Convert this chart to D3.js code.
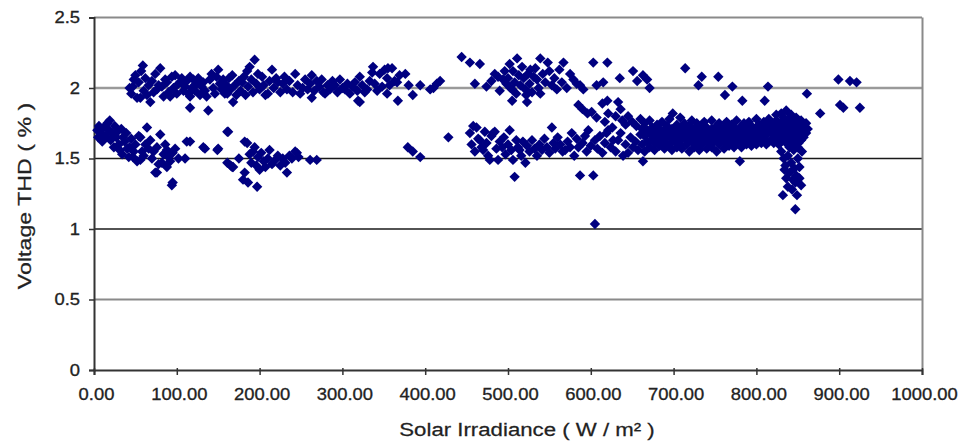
<!DOCTYPE html>
<html><head><meta charset="utf-8">
<script src="https://cdn.jsdelivr.net/npm/d3@7"></script>
<style>
html,body{margin:0;padding:0;background:#fff;}
svg{display:block;}
text{font-family:"Liberation Sans",Arial,sans-serif;fill:#222;}
</style></head>
<body><svg id="chart" width="963" height="441"></svg>
<script>
const xTicks = [0,100,200,300,400,500,600,700,800,900,1000];
const yTicks = [0,0.5,1,1.5,2,2.5];
const xTitle = "Solar Irradiance ( W / m\u00b2 )";
const yTitle = "Voltage THD ( % )";

const lowBandLeft = [[4,1.70],[5,1.65],[6,1.73],[8,1.68],[10,1.62],[12,1.72],[14,1.66],[16,1.75],[18,1.70],[19,1.77],[20,1.63],[22,1.68],[24,1.58],[25,1.73],[27,1.65],[28,1.69],[30,1.60],[31,1.56],[33,1.71],[34,1.53],[35,1.65],[37,1.62],[39,1.68],[40,1.57],[42,1.51],[43,1.58],[45,1.64],[47,1.51],[48,1.55],[50,1.60],[52,1.48],[54,1.66],[56,1.49],[56,1.65],[58,1.55],[60,1.52],[62,1.60],[64,1.72],[66,1.57],[68,1.63],[70,1.50],[72,1.55],[74,1.40],[76,1.58],[76,1.40],[78,1.46],[80,1.67],[82,1.47],[84,1.53],[86,1.60],[88,1.56],[88,1.44],[90,1.51],[92,1.48],[94,1.31],[95,1.54],[95,1.33],[98,1.57],[102,1.50],[110,1.50],[112,1.62],[116,1.62],[132,1.58],[134,1.57],[149,1.56],[150,1.57],[161,1.69],[162,1.69],[167,1.44],[161,1.47],[165,1.45],[168,1.44],[175,1.50],[180,1.35],[182,1.62],[182,1.40],[185,1.61],[186,1.33],[188,1.53],[190,1.47],[192,1.55],[194,1.58],[196,1.45],[197,1.30],[198,1.51],[200,1.42],[202,1.54],[205,1.48],[207,1.44],[210,1.50],[212,1.56],[215,1.46],[219,1.49],[222,1.52],[225,1.45],[228,1.50],[231,1.47],[233,1.40],[236,1.52],[239,1.50],[243,1.55],[245,1.54],[247,1.51],[261,1.49],[269,1.49]];

const highBandLeft = [[43,2.00],[45,1.96],[47,2.01],[48,2.06],[50,2.09],[52,1.93],[54,2.04],[56,1.93],[57,2.12],[59,2.16],[60,1.98],[62,2.07],[64,1.95],[66,2.02],[68,1.90],[70,2.05],[72,1.97],[74,2.10],[76,1.99],[78,2.02],[80,2.14],[82,2.01],[84,1.94],[86,2.06],[88,2.04],[90,1.97],[92,1.94],[94,2.08],[96,2.00],[98,2.09],[100,1.96],[102,2.03],[104,2.04],[106,2.07],[108,1.98],[110,2.01],[112,2.05],[114,1.96],[116,2.08],[116,1.94],[116,1.86],[118,2.00],[120,2.06],[122,1.98],[124,2.03],[126,2.07],[128,1.95],[130,2.01],[132,2.04],[134,1.98],[136,1.94],[138,1.84],[140,2.06],[142,2.10],[144,2.00],[146,1.96],[148,2.08],[150,2.13],[152,2.03],[154,1.99],[156,2.06],[158,1.96],[160,2.02],[161,1.96],[163,2.07],[165,1.99],[167,2.09],[168,1.90],[170,2.02],[172,1.95],[175,2.05],[177,1.98],[179,2.04],[181,2.08],[183,1.95],[185,2.12],[186,2.01],[188,2.15],[190,2.06],[192,1.97],[194,2.20],[196,2.03],[198,2.10],[200,1.99],[203,2.08],[205,2.02],[207,1.95],[210,1.96],[212,2.05],[215,2.13],[217,2.00],[220,2.07],[222,2.04],[225,1.97],[228,2.03],[230,2.08],[233,1.99],[236,2.05],[240,1.97],[243,2.10],[246,2.02],[249,1.96],[252,2.00],[255,2.06],[258,1.99],[261,2.03],[263,2.09],[263,1.93],[266,1.98],[269,2.05],[272,2.01],[275,2.06],[277,1.97],[279,1.96],[282,2.02],[285,1.99],[288,2.05],[291,2.02],[294,1.97],[297,2.06],[300,2.00],[303,1.99],[306,2.03],[309,1.96],[312,2.01],[315,2.04],[318,1.98],[319,1.91],[321,2.08],[321,1.90],[324,2.02],[327,1.97],[330,1.99],[333,2.05],[336,2.11],[337,2.15],[339,2.03],[342,1.98],[345,2.10],[348,2.01],[351,2.13],[355,2.14],[354,2.07],[354,1.96],[357,2.02],[360,2.14],[363,2.05],[366,2.04],[367,1.91],[369,2.09],[376,2.10],[380,2.02],[385,1.95],[394,2.02],[406,1.99],[410,2.00],[414,2.03],[418,2.05]];

const lowBandMid = [[379,1.58],[385,1.55],[394,1.51],[428,1.65],[454,1.68],[456,1.60],[458,1.73],[460,1.55],[462,1.72],[464,1.64],[466,1.63],[468,1.58],[470,1.56],[472,1.69],[474,1.61],[476,1.52],[478,1.49],[480,1.66],[482,1.68],[484,1.69],[486,1.57],[488,1.49],[490,1.62],[493,1.58],[495,1.65],[497,1.53],[500,1.60],[502,1.70],[504,1.56],[506,1.49],[508,1.37],[510,1.63],[512,1.58],[514,1.56],[516,1.52],[518,1.62],[521,1.47],[523,1.59],[526,1.55],[529,1.63],[532,1.57],[535,1.52],[538,1.60],[541,1.56],[544,1.64],[547,1.58],[550,1.54],[553,1.72],[555,1.61],[557,1.57],[560,1.65],[563,1.60],[566,1.55],[569,1.56],[572,1.62],[575,1.58],[577,1.68],[580,1.52],[583,1.64],[585,1.58],[587,1.38],[590,1.61],[593,1.66],[595,1.55],[597,1.70],[600,1.59],[603,1.38],[605,1.63],[605,1.035],[608,1.57],[611,1.66],[614,1.54],[617,1.61],[619,1.68],[621,1.70],[624,1.58],[627,1.63],[630,1.55],[633,1.63],[636,1.68],[639,1.52],[642,1.60],[645,1.54],[648,1.65],[651,1.58],[654,1.62],[657,1.56],[660,1.67]];

const highBandMid = [[444,2.22],[454,2.18],[466,2.17],[460,2.03],[474,2.01],[480,2.05],[484,2.10],[488,2.08],[490,1.98],[494,2.06],[496,2.12],[498,2.03],[500,2.07],[502,2.17],[503,2.00],[505,1.99],[505,1.91],[506,2.12],[508,2.04],[510,1.96],[511,2.21],[513,2.09],[515,2.02],[517,2.15],[519,2.07],[521,1.99],[522,1.95],[523,1.90],[524,2.10],[526,2.03],[527,2.13],[529,1.97],[531,2.08],[533,2.14],[535,2.06],[537,2.00],[539,2.21],[539,1.96],[542,2.10],[545,2.04],[548,2.18],[550,2.12],[553,2.02],[556,2.07],[559,1.99],[562,2.13],[565,2.04],[567,2.18],[571,2.00],[575,2.10],[579,2.06],[583,2.03],[587,2.02],[591,1.99],[603,2.18],[607,2.02],[615,2.04],[620,2.18],[635,2.07]];

const midBand = [[585,1.88],[590,1.85],[596,1.82],[601,1.83],[607,1.79],[614,1.89],[617,1.76],[620,1.91],[621,1.82],[626,1.72],[630,1.80],[633,1.90],[636,1.85],[638,1.77],[642,1.74],[645,1.80],[650,1.76],[655,1.73],[660,1.78]];

const highBandRight = [[651,2.12],[656,2.05],[663,2.09],[668,2.06],[671,2.00],[714,2.14],[734,2.08],[730,2.02],[754,2.08],[771,2.01],[762,1.95],[783,1.91],[810,1.91],[814,2.01],[861,1.96],[877,1.82],[899,2.06],[913,2.05],[921,2.04],[901,1.88],[905,1.86],[925,1.86]];

const lowBandRight = [[662,1.60],[662,1.71],[663,1.48],[665,1.55],[665,1.66],[665,1.75],[668,1.62],[668,1.70],[671,1.58],[671,1.68],[671,1.77],[674,1.64],[674,1.72],[677,1.56],[677,1.61],[677,1.69],[680,1.66],[680,1.74],[683,1.59],[683,1.63],[683,1.71],[686,1.67],[686,1.76],[689,1.57],[689,1.62],[689,1.70],[692,1.65],[692,1.73],[695,1.60],[695,1.68],[695,1.78],[698,1.56],[698,1.64],[698,1.71],[699,1.82],[701,1.62],[701,1.69],[704,1.58],[704,1.66],[704,1.74],[707,1.61],[707,1.70],[708,1.79],[710,1.57],[710,1.64],[710,1.72],[713,1.67],[713,1.75],[716,1.60],[716,1.63],[716,1.70],[719,1.55],[719,1.66],[719,1.73],[722,1.62],[722,1.69],[722,1.77],[725,1.58],[725,1.65],[725,1.71],[728,1.61],[728,1.68],[728,1.75],[731,1.56],[731,1.64],[731,1.70],[734,1.60],[734,1.67],[734,1.73],[737,1.63],[737,1.70],[737,1.76],[740,1.57],[740,1.65],[740,1.72],[743,1.61],[743,1.68],[746,1.58],[746,1.64],[746,1.71],[746,1.77],[749,1.62],[749,1.69],[752,1.55],[752,1.66],[752,1.73],[755,1.60],[755,1.67],[755,1.75],[758,1.63],[758,1.70],[761,1.57],[761,1.65],[761,1.72],[764,1.61],[764,1.68],[764,1.76],[767,1.59],[767,1.64],[767,1.71],[770,1.62],[770,1.69],[770,1.74],[773,1.58],[773,1.66],[773,1.72],[776,1.61],[776,1.67],[776,1.77],[779,1.64],[779,1.70],[780,1.48],[782,1.58],[782,1.66],[782,1.73],[785,1.62],[785,1.69],[785,1.75],[788,1.60],[788,1.65],[788,1.71],[791,1.63],[791,1.68],[791,1.76],[794,1.59],[794,1.66],[794,1.73],[797,1.62],[797,1.70],[800,1.60],[800,1.65],[800,1.72],[800,1.78],[803,1.63],[803,1.68],[803,1.74],[806,1.61],[806,1.66],[806,1.71],[809,1.64],[809,1.69],[809,1.76],[812,1.60],[812,1.67],[812,1.73],[815,1.62],[815,1.70],[815,1.78],[818,1.63],[818,1.68],[818,1.74],[821,1.61],[821,1.66],[821,1.72],[824,1.64],[824,1.70],[824,1.77],[824,1.81],[827,1.60],[827,1.67],[827,1.73],[830,1.62],[830,1.69],[830,1.76],[830,1.82],[833,1.64],[833,1.71],[833,1.79],[836,1.61],[836,1.67],[836,1.74],[836,1.84],[839,1.63],[839,1.70],[839,1.78],[842,1.60],[842,1.66],[842,1.73],[842,1.81],[845,1.62],[845,1.69],[845,1.76],[848,1.64],[848,1.71],[848,1.79],[851,1.61],[851,1.68],[851,1.74],[854,1.63],[854,1.70],[854,1.77],[857,1.65],[857,1.72],[860,1.68],[860,1.75],[862,1.71]];

const dipColumn = [[830,1.55],[833,1.50],[835,1.45],[838,1.52],[840,1.40],[842,1.47],[844,1.35],[846,1.43],[848,1.38],[850,1.50],[852,1.44],[854,1.31],[836,1.36],[838,1.30],[843,1.28],[847,1.33],[849,1.24],[832,1.24],[847,1.14],[845,1.56],[850,1.58],[840,1.58],[855,1.55],[834,1.42],[852,1.36]];

const points = [].concat(lowBandLeft, highBandLeft, lowBandMid, highBandMid, midBand, highBandRight, lowBandRight, dipColumn);

const svg = d3.select("#chart");
const x = d3.scaleLinear().domain([0,1000]).range([94,922]);
const y = d3.scaleLinear().domain([0,2.5]).range([370,17.5]);

// gridlines
const gridStyle = {0.5:["#8a8a8a",2],1:["#1a1a1a",1.4],1.5:["#1a1a1a",1.4],2:["#9a9a9a",2.6],2.5:["#8a8a8a",2]};
svg.append("g").selectAll("line").data(yTicks.filter(d=>d>0)).join("line")
  .attr("x1",x(0)).attr("x2",x(1000))
  .attr("y1",d=>y(d)).attr("y2",d=>y(d))
  .attr("stroke",d=>gridStyle[d][0]).attr("stroke-width",d=>gridStyle[d][1]);
// right border
svg.append("line").attr("x1",x(1000)+0.5).attr("x2",x(1000)+0.5).attr("y1",y(2.5)).attr("y2",y(0))
  .attr("stroke","#8a8a8a").attr("stroke-width",2);

const tickFont = 16, stretch = 1.15;
// axes
const yAxis = d3.axisLeft(y).tickValues(yTicks).tickFormat(d=>d3.format("")(d)).tickSize(5).tickPadding(0);
const gy = svg.append("g").attr("transform",`translate(${x(0)},0)`).call(yAxis);
gy.select(".domain").attr("stroke","#333").attr("stroke-width",2);
gy.selectAll(".tick line").attr("stroke","#333").attr("stroke-width",1.5);
gy.selectAll(".tick text").attr("x",0).attr("font-size",tickFont).attr("fill","#222")
  .attr("stroke","#222").attr("stroke-width",0.3)
  .attr("transform",`translate(-14,0) scale(${stretch},1)`);

const xAxis = d3.axisBottom(x).tickValues(xTicks).tickFormat(d3.format(".2f")).tickSize(5).tickPadding(14);
const gx = svg.append("g").attr("transform",`translate(0,${y(0)})`).call(xAxis);
gx.select(".domain").attr("stroke","#333").attr("stroke-width",2);
gx.selectAll(".tick line").attr("stroke","#333").attr("stroke-width",1.5).attr("y1",-2);
gx.selectAll(".tick text").attr("font-size",tickFont).attr("fill","#222")
  .attr("stroke","#222").attr("stroke-width",0.3)
  .attr("transform",`translate(2,0) scale(${stretch},1)`);

// points
svg.append("g").selectAll("path").data(points).join("path")
  .attr("transform",d=>`translate(${x(d[0])},${y(d[1])})`)
  .attr("d","M0,-5.2L5.2,0L0,5.2L-5.2,0Z")
  .attr("fill","#000080");

// titles
svg.append("text").attr("transform","translate(527,436) scale(1.17,1)").attr("text-anchor","middle")
  .attr("font-size",19).attr("stroke","#222").attr("stroke-width",0.25).text(xTitle);
svg.append("text").attr("transform","translate(31,196) rotate(-90) scale(1.22,1)").attr("text-anchor","middle")
  .attr("font-size",19).attr("stroke","#222").attr("stroke-width",0.25).text(yTitle);
</script></body></html>
